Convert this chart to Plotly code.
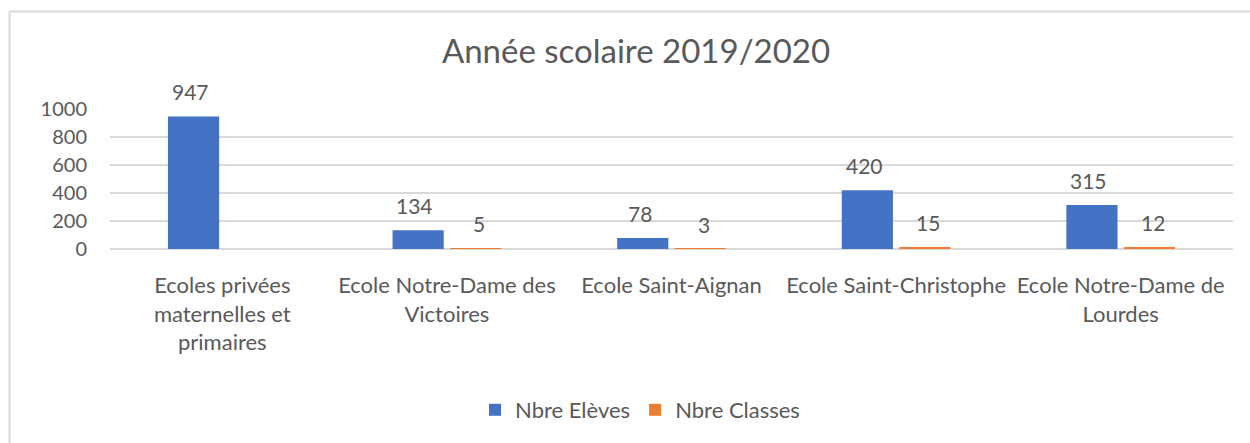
import plotly.graph_objects as go

categories = [
    "Ecoles privées<br>maternelles et<br>primaires",
    "Ecole Notre-Dame des<br>Victoires",
    "Ecole Saint-Aignan",
    "Ecole Saint-Christophe",
    "Ecole Notre-Dame de<br>Lourdes",
]
nbre_eleves = [947, 134, 78, 420, 315]
nbre_classes = [None, 5, 3, 15, 12]
y_ticks = [0, 200, 400, 600, 800, 1000]

FONT = "Lato"
GREY = "#595959"
BLUE = "#4472C4"
ORANGE = "#ED7D31"

fig = go.Figure()
fig.add_trace(go.Bar(name="Nbre Elèves", x=categories, y=nbre_eleves,
                     marker=dict(color=BLUE, line=dict(width=0))))
fig.add_trace(go.Bar(name="Nbre Classes", x=categories, y=nbre_classes,
                     marker=dict(color=ORANGE, line=dict(width=0))))

# data labels above each bar
for trace_idx, vals in enumerate([nbre_eleves, nbre_classes]):
    off = -0.5 if trace_idx == 0 else 0.5
    for i, v in enumerate(vals):
        if v is None:
            continue
        fig.add_annotation(x=i, y=v, xref="x", yref="y", text=str(v),
                           showarrow=False, yanchor="bottom", yshift=10,
                           xshift=off * 64,
                           font=dict(family=FONT, size=21, color=GREY))

W, H = 1250, 443
L, R, T, B = 110, 17, 109, 194
pw, ph = W - L - R, H - T - B

def px_x(p):
    return (p - L) / pw

def px_y(p):
    return (H - B - p) / ph

# chart border (top & left visible)
fig.add_shape(type="line", xref="paper", yref="paper",
              x0=px_x(9.5), x1=px_x(1260), y0=px_y(11.5), y1=px_y(11.5),
              line=dict(color="#D9D9D9", width=2))
fig.add_shape(type="line", xref="paper", yref="paper",
              x0=px_x(9.5), x1=px_x(9.5), y0=px_y(11.5), y1=px_y(460),
              line=dict(color="#D9D9D9", width=2))

fig.update_layout(
    width=W, height=H,
    margin=dict(l=L, r=R, t=T, b=B),
    paper_bgcolor="white", plot_bgcolor="white",
    barmode="group", bargap=0.488, bargroupgap=0.11,
    title=dict(text="Année scolaire 2019/2020", x=(636) / W, xanchor="center",
               y=1 - 51 / H, yanchor="middle",
               font=dict(family=FONT, size=33, color=GREY)),
    font=dict(family=FONT, size=20, color=GREY),
    showlegend=True,
    legend=dict(orientation="h", x=px_x(640), xanchor="center",
                y=px_y(410), yanchor="middle",
                font=dict(family=FONT, size=22, color=GREY),
                itemwidth=30, tracegroupgap=0, traceorder="normal"),
    xaxis=dict(showgrid=False, showline=False, ticks="",
               tickfont=dict(family=FONT, size=22, color=GREY),
               ticklabelstandoff=21, fixedrange=True),
    yaxis=dict(range=[0, 1000], tickvals=y_ticks, showgrid=True,
               gridcolor="#D9D9D9", gridwidth=1.5, zeroline=True,
               zerolinecolor="#D9D9D9", zerolinewidth=1.5, showline=False,
               ticks="", tickfont=dict(family=FONT, size=20, color=GREY),
               ticklabelstandoff=22),
)

fig.write_html("out.html",
               config={"displayModeBar": False},
               post_script="document.body.style.margin='0';document.body.style.overflow='hidden';")
